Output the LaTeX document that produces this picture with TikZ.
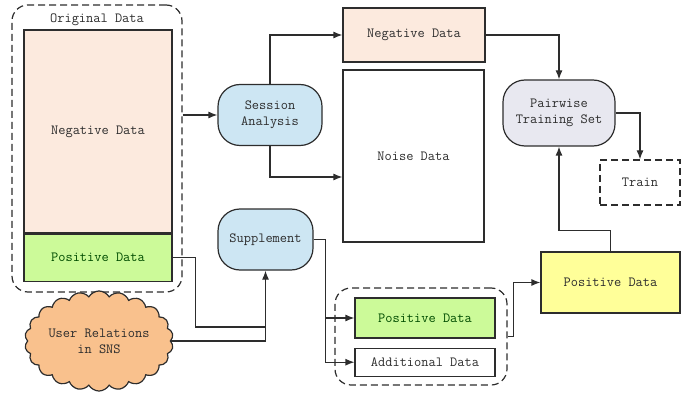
\documentclass[tikz,border=0pt]{standalone}
\usepackage{fontspec}
\usepackage{tikz}
\usetikzlibrary{positioning, calc, shapes, arrows.meta}

\definecolor{peach}{RGB}{252,234,222}
\definecolor{leaf}{RGB}{204,250,153}
\definecolor{sky}{RGB}{205,230,243}
\definecolor{lilac}{RGB}{232,232,240}
\definecolor{lemon}{RGB}{255,255,153}
\definecolor{apricot}{RGB}{249,193,141}
\definecolor{ink}{RGB}{45,45,45}

\begin{document}
\begin{tikzpicture}[>={Latex[length=9pt,width=7pt]}, x=1pt, y=-1pt, line width=1.2pt, draw=ink, text=ink,
		font=\fontsize{14}{16}\selectfont\ttfamily,
		box/.style={draw=ink, rectangle, inner sep=0pt},
		proc/.style={draw=ink, rectangle, rounded corners=22pt, fill=sky, align=center, inner sep=0pt},
		grp/.style={draw=ink, dash pattern=on 7pt off 4pt, rounded corners=16pt, inner sep=0pt} ]
			\useasboundingbox (0,0) rectangle (700,395);

			%Dados originais:
			\node[grp, minimum width=170pt, minimum height=287pt]	(orig)	at (97,148.5)	{};
			\node[below=5pt of orig.north]							(origlbl)				{Original Data};
			\node[box, fill=peach, minimum width=148pt, minimum height=203pt]	(negL)	at (98,131.5)	{Negative Data};
			\node[box, fill=leaf, minimum width=148pt, minimum height=47pt, text=green!30!black]	(posL) [below=0pt of negL]	{Positive Data};

			%Processos:
			\node[proc, minimum width=104pt, minimum height=61pt]	(sess)	at (270,115)	{Session\\Analysis};
			\node[proc, minimum width=95pt, minimum height=61pt]	(supp)	at (265.5,239.5)	{Supplement};
			\node[proc, fill=lilac, minimum width=112pt, minimum height=66pt]	(pair)	at (559,113)	{Pairwise\\Training Set};
			\node[cloud, cloud puffs=22, cloud puff arc=120, aspect=1.6, draw=ink, fill=apricot, align=center,
				minimum width=116pt, minimum height=72pt, inner sep=0pt]	(rel)	at (99,341)	{User Relations\\in SNS};

			%Dados:
			\node[box, fill=peach, minimum width=142pt, minimum height=54pt]	(negR)	at (414,35)		{Negative Data};
			\node[box, minimum width=141pt, minimum height=172pt]				(noise)	at (413.5,156)	{Noise Data};
			\node[box, dash pattern=on 7pt off 4pt, minimum width=80pt, minimum height=45pt]	(train)	at (640,182.5)	{Train};
			\node[grp, minimum width=172pt, minimum height=97pt]				(grpM)	at (421,336.5)	{};
			\node[box, fill=leaf, minimum width=140pt, minimum height=40pt, text=green!30!black]	(posM)	at (425,318)	{Positive Data};
			\node[box, minimum width=140pt, minimum height=28pt]				(add)	[below=9pt of posM]	{Additional Data};
			\node[box, fill=lemon, minimum width=139pt, minimum height=61pt]	(posR)	at (610.5,282.5)	{Positive Data};
			\coordinate (join) at (supp.south |- 0,327);

			%Ligações:
			%(Origem) [tipo da seta] (Destino)
			\draw[->] (orig.east |- sess.west) -- (sess.west);
			\draw[->] (sess.north) |- (negR.west);
			\draw[->] (sess.south) |- ([yshift=-21pt]noise.west);
			\draw[->] (negR.east) -| (pair.north);
			\draw[->] (pair.east) -| (train.north);
			\draw (posL.east) -- ++(23,0) |- (join);
			\draw[->] (rel.east) -| (supp.south);
			\draw[->] (supp.east) -- ++(12,0) |- (posM.west);
			\draw[->] (supp.east) -- ++(12,0) |- (add.west);
			\draw[->] (grpM.east) -- ++(6,0) |- (posR.west);
			\draw[->] (posR.north) -- ++(0,-21) -| (pair.south);
		\end{tikzpicture}
\end{document}
